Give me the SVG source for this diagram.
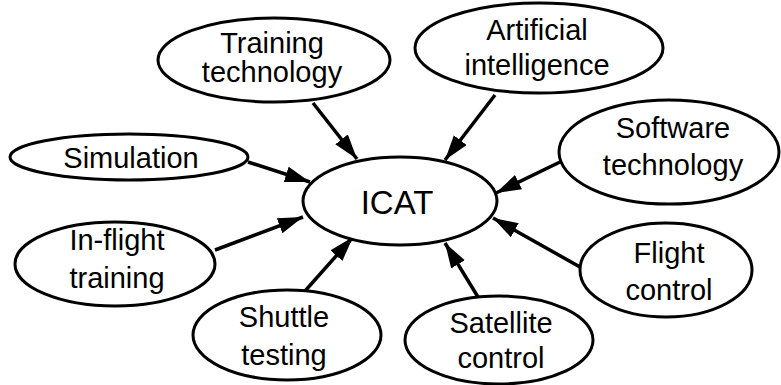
<svg xmlns="http://www.w3.org/2000/svg" width="781" height="385" viewBox="0 0 781 385">
<style>
.n ellipse{fill:#fff;stroke:#000;stroke-width:3}
.n text{font-family:"Liberation Sans",Arial,Helvetica,sans-serif;font-size:29px;fill:#000;text-anchor:middle}
#edges line{stroke:#000;stroke-width:3.5}
</style>
<defs>
<marker id="ah" markerUnits="userSpaceOnUse" markerWidth="26" markerHeight="18" refX="25" refY="8" orient="auto" viewBox="0 0 26 18">
<path d="M0,0 L25,8 L0,16 z" fill="#000"/>
</marker>
</defs>
<rect width="781" height="385" fill="#fff"/>
<g id="edges">
<line x1="313" y1="103" x2="357" y2="159" marker-end="url(#ah)"/>
<line x1="495" y1="95" x2="445" y2="160" marker-end="url(#ah)"/>
<line x1="560" y1="162" x2="496" y2="193" marker-end="url(#ah)"/>
<line x1="248" y1="162" x2="310" y2="182" marker-end="url(#ah)"/>
<line x1="215" y1="250" x2="303" y2="217" marker-end="url(#ah)"/>
<line x1="305" y1="291" x2="353" y2="237" marker-end="url(#ah)"/>
<line x1="478" y1="297" x2="445" y2="243" marker-end="url(#ah)"/>
<line x1="580" y1="267" x2="493" y2="218" marker-end="url(#ah)"/>
</g>
<g id="icat" class="n">
<ellipse cx="400" cy="201" rx="97" ry="44"/>
<text x="397" y="214" style="font-size:33px">ICAT</text>
</g>
<g id="training" class="n">
<ellipse cx="274" cy="60" rx="116" ry="42"/>
<text x="272" y="53">Training</text>
<text x="272" y="82">technology</text>
</g>
<g id="ai" class="n">
<ellipse cx="539" cy="48" rx="124" ry="45"/>
<text x="537" y="40">Artificial</text>
<text x="537" y="75">intelligence</text>
</g>
<g id="software" class="n">
<ellipse cx="669" cy="152" rx="110" ry="52"/>
<text x="673" y="138">Software</text>
<text x="673" y="175">technology</text>
</g>
<g id="simulation" class="n">
<ellipse cx="129" cy="157" rx="119" ry="23"/>
<text x="131" y="168">Simulation</text>
</g>
<g id="inflight" class="n">
<ellipse cx="115" cy="264" rx="100" ry="42"/>
<text x="117" y="250">In-flight</text>
<text x="117" y="288">training</text>
</g>
<g id="shuttle" class="n">
<ellipse cx="287" cy="335" rx="94" ry="45"/>
<text x="284" y="327">Shuttle</text>
<text x="284" y="365">testing</text>
</g>
<g id="satellite" class="n">
<ellipse cx="499" cy="340" rx="94" ry="44"/>
<text x="501" y="333">Satellite</text>
<text x="501" y="368">control</text>
</g>
<g id="flight" class="n">
<ellipse cx="666" cy="270" rx="86" ry="47"/>
<text x="669" y="263">Flight</text>
<text x="669" y="300">control</text>
</g>
</svg>
